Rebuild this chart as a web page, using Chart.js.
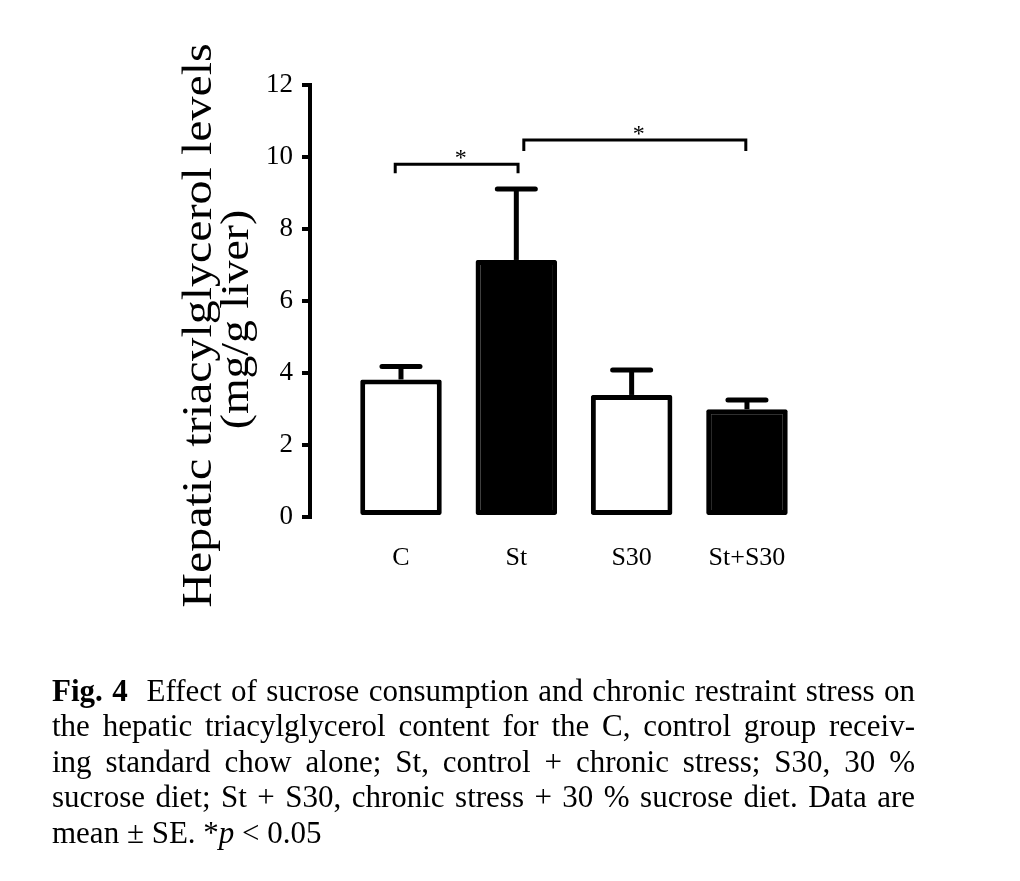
<!DOCTYPE html>
<html>
<head>
<meta charset="utf-8">
<title>Hepatic triacylglycerol levels</title>
<script src="https://cdn.jsdelivr.net/npm/chart.js@4.4.1/dist/chart.umd.min.js"></script>
<style>
  html, body { margin: 0; padding: 0; background: #fff; }
  body {
    width: 1020px; height: 881px; position: relative; overflow: hidden;
    font-family: "Liberation Serif", "Times New Roman", serif; color: #000;
  }
  #chart-wrap { position: absolute; left: 0; top: 0; width: 1020px; height: 640px; }
  .y-title {
    position: absolute; width: 700px; height: 43px;
    transform: rotate(-90deg) scaleX(1.115); text-align: center;
    font-size: 43px; line-height: 43px; white-space: nowrap;
  }
  #y-title-1 { left: -154.5px; top: 303.5px; }
  #y-title-2 { left: -116.5px; top: 297.5px; font-size: 41px; }
  #caption {
    position: absolute; left: 52px; top: 673px; width: 863px;
    font-size: 31px; line-height: 35.4px;
  }
  #caption .line { text-align: justify; text-align-last: justify; white-space: nowrap; }
  #caption .line.last { text-align-last: left; }
</style>
</head>
<body>
<div id="chart-wrap"><canvas id="tag-chart"></canvas></div>
<div class="y-title" id="y-title-1">Hepatic triacylglycerol levels</div>
<div class="y-title" id="y-title-2">(mg/g liver)</div>
<div id="caption">
  <div class="line"><b>Fig. 4</b>&nbsp; Effect of sucrose consumption and chronic restraint stress on</div>
  <div class="line">the hepatic triacylglycerol content for the C, control group receiv-</div>
  <div class="line">ing standard chow alone; St, control + chronic stress; S30, 30 %</div>
  <div class="line">sucrose diet; St + S30, chronic stress + 30 % sucrose diet. Data are</div>
  <div class="line last">mean ± SE. *<i>p</i> &lt; 0.05</div>
</div>
<script>
const GROUPS = ["C", "St", "S30", "St+S30"];
const TAG_MEANS = [3.82, 7.14, 3.39, 2.99];
const TAG_SE = [0.36, 1.97, 0.69, 0.26];
const BAR_FILLS = ["#ffffff", "#000000", "#ffffff", "#000000"];
const Y_TICKS = [0, 2, 4, 6, 8, 10, 12];

// significance brackets (ends in group-index units, level in mg/g)
const SIG_FROM = [-0.05, 1.065];
const SIG_TO = [1.015, 2.99];
const SIG_LEVEL = [9.8, 10.47];
const SIG_DROP = [0.25, 0.3];
const SIG_LABEL = ["*", "*"];

const SERIF = '"Liberation Serif", "Times New Roman", serif';

const errorBarPlugin = {
  id: "errorBars",
  afterDatasetsDraw(chart) {
    const { ctx } = chart;
    const y = chart.scales.y;
    const meta = chart.getDatasetMeta(0);
    ctx.save();
    ctx.strokeStyle = "#000";
    ctx.lineWidth = 5;
    meta.data.forEach((bar, i) => {
      const base = y.getPixelForValue(TAG_MEANS[i]);
      const top = y.getPixelForValue(TAG_MEANS[i] + TAG_SE[i]);
      ctx.lineCap = "butt";
      ctx.beginPath();
      ctx.moveTo(bar.x, base);
      ctx.lineTo(bar.x, top);
      ctx.stroke();
      ctx.lineCap = "round";
      ctx.beginPath();
      ctx.moveTo(bar.x - 19, top);
      ctx.lineTo(bar.x + 19, top);
      ctx.stroke();
    });
    ctx.restore();
  },
};

const sigBracketPlugin = {
  id: "sigBrackets",
  afterDatasetsDraw(chart) {
    const { ctx } = chart;
    const { x, y } = chart.scales;
    ctx.save();
    ctx.strokeStyle = "#000";
    ctx.fillStyle = "#000";
    ctx.lineWidth = 3;
    ctx.font = `24px ${SERIF}`;
    ctx.textAlign = "center";
    ctx.textBaseline = "alphabetic";
    SIG_LEVEL.forEach((level, i) => {
      const x1 = x.getPixelForValue(SIG_FROM[i]);
      const x2 = x.getPixelForValue(SIG_TO[i]);
      const yl = y.getPixelForValue(level);
      const yd = y.getPixelForValue(level - SIG_DROP[i]);
      ctx.beginPath();
      ctx.moveTo(x1, yd);
      ctx.lineTo(x1, yl);
      ctx.lineTo(x2, yl);
      ctx.lineTo(x2, yd);
      ctx.stroke();
      ctx.fillText(SIG_LABEL[i], (x1 + x2) / 2 + 4, yl + 1);
    });
    ctx.restore();
  },
};

new Chart(document.getElementById("tag-chart"), {
  type: "bar",
  data: {
    datasets: [
      {
        label: "Hepatic triacylglycerol",
        data: GROUPS.map((g, i) => ({ x: i, y: TAG_MEANS[i] })),
        backgroundColor: BAR_FILLS,
        borderColor: "#000",
        borderWidth: 5,
        borderSkipped: false,
        borderRadius: 2,
        barPercentage: 1,
        categoryPercentage: 0.707,
      },
    ],
  },
  options: {
    responsive: true,
    maintainAspectRatio: false,
    animation: false,
    layout: { padding: { top: 85, right: 190, bottom: 0, left: 0 } },
    plugins: {
      legend: { display: false },
      tooltip: { enabled: false },
    },
    scales: {
      x: {
        type: "linear",
        offset: false,
        min: -0.789,
        max: 3.72,
        grid: { display: false, drawTicks: false, tickLength: 0 },
        border: { display: false },
        afterBuildTicks: (scale) => {
          scale.ticks = GROUPS.map((g, i) => ({ value: i }));
        },
        afterFit: (scale) => {
          scale.height = 123;
        },
        ticks: {
          callback: (v) => GROUPS[v] ?? "",
          font: { family: SERIF, size: 26 },
          color: "#000",
          padding: 26,
          maxRotation: 0,
          autoSkip: false,
        },
      },
      y: {
        min: 0,
        max: 12,
        afterBuildTicks: (scale) => {
          scale.ticks = Y_TICKS.map((v) => ({ value: v }));
        },
        afterFit: (scale) => {
          scale.width = 310;
        },
        grid: {
          drawOnChartArea: false,
          drawTicks: true,
          tickLength: 8,
          lineWidth: 4,
          color: "#000",
        },
        border: { display: true, width: 4, color: "#000" },
        ticks: {
          font: { family: SERIF, size: 27 },
          color: "#000",
          padding: 9,
        },
      },
    },
  },
  plugins: [errorBarPlugin, sigBracketPlugin],
});
</script>
</body>
</html>
